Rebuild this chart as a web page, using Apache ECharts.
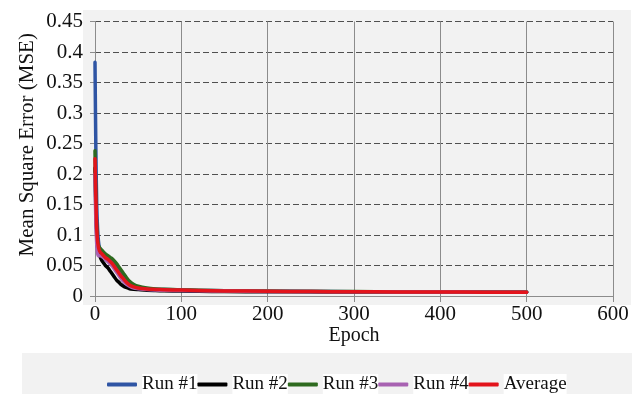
<!DOCTYPE html>
<html>
<head>
<meta charset="utf-8">
<script src="https://cdn.jsdelivr.net/npm/echarts@6/dist/echarts.min.js"></script>
<style>
  html, body { margin: 0; padding: 0; background: #ffffff; }
  #chart { width: 640px; height: 394px; }
</style>
</head>
<body>
<div id="chart"></div>
<script>
// Training epochs at which the error was sampled
const epochs = [0, 1, 2, 3, 4, 5, 6, 8, 10, 12, 15, 18, 20, 22, 25, 28, 30, 33, 36, 40, 45, 50, 60, 70, 80, 100, 120, 150, 200, 250, 300, 350, 400, 450, 500];

// Mean square error per run
const run1 = [0.383, 0.24, 0.15, 0.11, 0.09, 0.08, 0.076, 0.072, 0.069, 0.066, 0.062, 0.058, 0.055, 0.052, 0.046, 0.040, 0.036, 0.030, 0.025, 0.020, 0.016, 0.014, 0.012, 0.011, 0.0105, 0.0098, 0.0092, 0.0085, 0.0078, 0.0074, 0.0070, 0.0068, 0.0066, 0.0064, 0.0062];
const run2 = [0.21, 0.14, 0.10, 0.08, 0.072, 0.068, 0.064, 0.058, 0.054, 0.050, 0.046, 0.040, 0.036, 0.032, 0.026, 0.022, 0.019, 0.016, 0.014, 0.012, 0.011, 0.0105, 0.0095, 0.009, 0.0086, 0.0080, 0.0076, 0.0073, 0.0070, 0.0068, 0.0066, 0.0064, 0.0063, 0.0062, 0.0060];
const run3 = [0.238, 0.15, 0.11, 0.09, 0.083, 0.080, 0.078, 0.075, 0.072, 0.069, 0.066, 0.063, 0.061, 0.058, 0.053, 0.047, 0.043, 0.037, 0.031, 0.024, 0.019, 0.016, 0.013, 0.0115, 0.011, 0.0100, 0.0095, 0.0088, 0.0080, 0.0076, 0.0072, 0.0070, 0.0068, 0.0066, 0.0064];
const run4 = [0.20, 0.12, 0.085, 0.07, 0.066, 0.066, 0.066, 0.065, 0.063, 0.060, 0.056, 0.052, 0.049, 0.045, 0.039, 0.033, 0.029, 0.024, 0.020, 0.016, 0.013, 0.012, 0.0105, 0.0098, 0.0094, 0.0090, 0.0086, 0.0080, 0.0075, 0.0072, 0.0069, 0.0067, 0.0065, 0.0063, 0.0061];
const average = [0.225, 0.16, 0.11, 0.09, 0.08, 0.075, 0.072, 0.069, 0.066, 0.063, 0.060, 0.056, 0.053, 0.049, 0.043, 0.037, 0.033, 0.028, 0.023, 0.018, 0.015, 0.013, 0.0115, 0.0108, 0.0103, 0.0097, 0.0091, 0.0084, 0.0077, 0.0073, 0.0069, 0.0067, 0.0065, 0.0063, 0.0061];

const seriesNames = ['Run #1', 'Run #2', 'Run #3', 'Run #4', 'Average'];
const seriesValues = [run1, run2, run3, run4, average];
const seriesColors = ['#2f55a4', '#000000', '#2e6a1f', '#a862b2', '#e3141c'];

const FONT = '"Liberation Serif", "Times New Roman", serif';
const PANEL = '#f2f2f2';

const chart = echarts.init(document.getElementById('chart'), null, { renderer: 'canvas' });

const series = seriesNames.map((name, i) => ({
  name: name,
  type: 'line',
  data: epochs.map((e, k) => [e, seriesValues[i][k]]),
  showSymbol: false,
  smooth: 0.3,
  lineStyle: { color: seriesColors[i], width: 3.5, cap: 'round', join: 'round' },
  itemStyle: { color: seriesColors[i] },
  z: 3 + i
}));

chart.setOption({
  animation: false,
  backgroundColor: '#ffffff',
  graphic: [
    { type: 'rect', z: -10, shape: { x: 83, y: 10, width: 548, height: 295 }, style: { fill: PANEL } },
    { type: 'rect', z: -10, shape: { x: 22, y: 353, width: 610, height: 41 }, style: { fill: PANEL } }
  ],
  grid: { left: 95, right: 27, top: 21.5, bottom: 98, containLabel: false },
  legend: {
    data: seriesNames,
    left: 102,
    top: 369,
    itemWidth: 30,
    itemHeight: 4,
    itemGap: 0,
    icon: 'roundRect',
    textStyle: {
      fontFamily: FONT,
      fontSize: 19,
      color: '#111',
      backgroundColor: '#ffffff',
      padding: [1, 0, 1, 0]
    }
  },
  xAxis: {
    type: 'value',
    min: 0,
    max: 600,
    interval: 100,
    name: 'Epoch',
    nameLocation: 'middle',
    nameGap: 30,
    nameMoveOverlap: false,
    nameTextStyle: { fontFamily: FONT, fontSize: 20, color: '#111' },
    axisLine: { show: true, lineStyle: { color: '#8c8c8c', width: 1 } },
    axisTick: { show: true, inside: false, length: 6, lineStyle: { color: '#8c8c8c' } },
    axisLabel: { fontFamily: FONT, fontSize: 21, color: '#111', margin: 8 },
    splitLine: { show: true, lineStyle: { color: '#8c8c8c', width: 1, type: 'solid' } }
  },
  yAxis: {
    type: 'value',
    min: 0,
    max: 0.45,
    interval: 0.05,
    name: 'Mean Square Error (MSE)',
    nameLocation: 'middle',
    nameGap: 57,
    nameMoveOverlap: false,
    nameTextStyle: { fontFamily: FONT, fontSize: 21, color: '#111', padding: [0, 0, 0, 28] },
    axisLine: { show: true, lineStyle: { color: '#8c8c8c', width: 1 } },
    axisTick: { show: true, inside: false, length: 5, lineStyle: { color: '#8c8c8c' } },
    axisLabel: {
      fontFamily: FONT, fontSize: 21, color: '#111', margin: 12,
      formatter: v => String(Math.round(v * 100) / 100)
    },
    splitLine: { show: true, lineStyle: { color: '#505050', width: 1, type: [6, 3] } }
  },
  series: series
});
</script>
</body>
</html>
